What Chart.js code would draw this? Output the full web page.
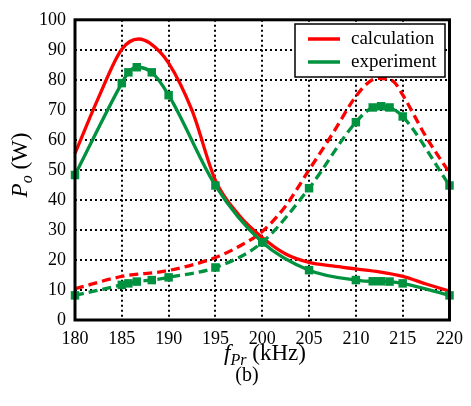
<!DOCTYPE html>
<html>
<head>
<meta charset="utf-8">
<script src="https://cdn.jsdelivr.net/npm/chart.js@4.4.0/dist/chart.umd.min.js"></script>
<style>
    html, body { margin: 0; padding: 0; background: #fff; }
    #wrap { width: 471px; height: 406px; position: relative; }
</style>
</head>
<body>
<div id="wrap"><canvas id="powerChart"></canvas></div>
<script>
// measured points (experiment) - same frequencies for both curves
const expFreq = [180, 185, 185.7, 186.6, 188.2, 190, 195, 200, 205, 210, 211.8, 212.7, 213.6, 215, 220];
const expLow = [48.3, 78.9, 82.5, 84.2, 82.5, 74.9, 44.8, 25.9, 16.6, 13.3, 12.9, 12.9, 12.8, 12.2, 8.2];
const expHigh = [8.2, 11.7, 12.2, 12.8, 13.3, 14.2, 17.5, 25.9, 43.9, 65.9, 70.8, 71.2, 70.8, 67.8, 44.8];

// calculated curves
const calcLowFreq = [180, 182.5, 185, 186.8, 188, 190, 192.5, 195, 197.5, 200, 202.5, 205, 207.5, 210, 212.5, 215, 217.5, 220];
const calcLow = [55.5, 74, 90.2, 93.6, 92.2, 85.6, 69.8, 46.5, 35, 27.5, 22, 19.2, 18, 17, 16, 14.5, 12, 9.6];
const calcHighFreq = [180, 185, 190, 195, 197.5, 200, 202.5, 205, 207.5, 210, 211.5, 212.5, 214, 215, 217.5, 220];
const calcHigh = [10.4, 14.5, 16.5, 20.8, 24.5, 29.5, 38, 50, 62, 74.5, 79.5, 80.5, 79.5, 75, 61, 49];

const xTicks = [180, 185, 190, 195, 200, 205, 210, 215, 220];
const yTicks = [0, 10, 20, 30, 40, 50, 60, 70, 80, 90, 100];

const legendNames = ['calculation', 'experiment'];

const RED = '#ff0000';
const GREEN = '#00923f';
const SERIF = '"Liberation Serif", "Times New Roman", serif';

function toPoints(xs, ys) {
    return xs.map((x, i) => ({ x: x, y: ys[i] }));
}

// frame, legend box and rich axis titles
const decorPlugin = {
    id: 'decor',
    afterDatasetsDraw(chart) {
        const ctx = chart.ctx;
        const a = chart.chartArea;
        ctx.save();
        ctx.strokeStyle = '#000';
        ctx.lineWidth = 3;
        ctx.strokeRect(a.left, a.top, a.right - a.left, a.bottom - a.top);

        // legend
        const lx = 295, ly = 24, lw = 150, lh = 53;
        ctx.fillStyle = '#fff';
        ctx.fillRect(lx, ly, lw, lh);
        ctx.lineWidth = 1.5;
        ctx.strokeRect(lx, ly, lw, lh);
        const colors = [RED, GREEN];
        legendNames.forEach((name, i) => {
            const y = 39 + i * 23;
            ctx.strokeStyle = colors[i];
            ctx.lineWidth = 3.5;
            ctx.beginPath();
            ctx.moveTo(308, y);
            ctx.lineTo(340, y);
            ctx.stroke();
            ctx.fillStyle = '#000';
            ctx.font = '19px ' + SERIF;
            ctx.textBaseline = 'middle';
            ctx.textAlign = 'left';
            ctx.fillText(name, 351, y);
        });

        // x title: f_Pr (kHz)
        ctx.textBaseline = 'alphabetic';
        ctx.fillStyle = '#000';
        const parts = [
            { t: 'f', f: 'italic 23px ' + SERIF, dy: 0 },
            { t: 'Pr', f: 'italic 16px ' + SERIF, dy: 5 },
            { t: ' (kHz)', f: '23px ' + SERIF, dy: 0 }
        ];
        let total = 0;
        parts.forEach(p => { ctx.font = p.f; p.w = ctx.measureText(p.t).width; total += p.w; });
        let x = 265 - total / 2;
        parts.forEach(p => { ctx.font = p.f; ctx.fillText(p.t, x, 360 + p.dy); x += p.w; });

        ctx.font = '20px ' + SERIF;
        ctx.textAlign = 'center';
        ctx.fillText('(b)', 247, 381);

        // y title: P_o (W)
        ctx.translate(27, 165);
        ctx.rotate(-Math.PI / 2);
        ctx.textAlign = 'left';
        const yparts = [
            { t: 'P', f: 'italic 23px ' + SERIF, dy: 0 },
            { t: 'o', f: 'italic 16px ' + SERIF, dy: 5 },
            { t: ' (W)', f: '23px ' + SERIF, dy: 0 }
        ];
        total = 0;
        yparts.forEach(p => { ctx.font = p.f; p.w = ctx.measureText(p.t).width; total += p.w; });
        x = -total / 2;
        yparts.forEach(p => { ctx.font = p.f; ctx.fillText(p.t, x, p.dy); x += p.w; });
        ctx.restore();
    }
};

const lineBase = {
    fill: false,
    borderWidth: 3.3,
    cubicInterpolationMode: 'monotone',
    clip: false
};

const ctx = document.getElementById('powerChart').getContext('2d');
const powerChart = new Chart(ctx, {
    type: 'line',
    data: {
        datasets: [
            Object.assign({}, lineBase, {
                label: 'experiment',
                data: toPoints(expFreq, expLow),
                borderColor: GREEN,
                backgroundColor: GREEN,
                pointStyle: 'rect',
                pointRadius: 6,
                pointBorderWidth: 0
            }),
            Object.assign({}, lineBase, {
                label: 'experiment (dashed)',
                data: toPoints(expFreq, expHigh),
                borderColor: GREEN,
                backgroundColor: GREEN,
                borderDash: [9, 5],
                pointStyle: 'rect',
                pointRadius: 6,
                pointBorderWidth: 0
            }),
            Object.assign({}, lineBase, {
                label: 'calculation',
                data: toPoints(calcLowFreq, calcLow),
                borderColor: RED,
                pointRadius: 0
            }),
            Object.assign({}, lineBase, {
                label: 'calculation (dashed)',
                data: toPoints(calcHighFreq, calcHigh),
                borderColor: RED,
                borderDash: [9, 5],
                pointRadius: 0
            })
        ]
    },
    options: {
        responsive: true,
        maintainAspectRatio: false,
        animation: false,
        layout: { padding: { top: 15, right: 16, left: 0, bottom: 0 } },
        plugins: {
            legend: { display: false },
            tooltip: { enabled: false }
        },
        scales: {
            x: {
                type: 'linear',
                min: 180,
                max: 220,
                afterFit: s => { s.height = 86; },
                afterBuildTicks: s => { s.ticks = xTicks.map(v => ({ value: v })); },
                ticks: { color: '#000', padding: 8, font: { family: SERIF, size: 18 } },
                grid: { color: '#000', lineWidth: 2, drawTicks: false },
                border: { display: false, dash: [2, 3] }
            },
            y: {
                min: 0,
                max: 100,
                afterFit: s => { s.width = 75; },
                afterBuildTicks: s => { s.ticks = yTicks.map(v => ({ value: v })); },
                ticks: { color: '#000', padding: 9, font: { family: SERIF, size: 18 } },
                grid: { color: '#000', lineWidth: 2, drawTicks: false },
                border: { display: false, dash: [2, 3] }
            }
        }
    },
    plugins: [decorPlugin]
});
</script>
</body>
</html>
